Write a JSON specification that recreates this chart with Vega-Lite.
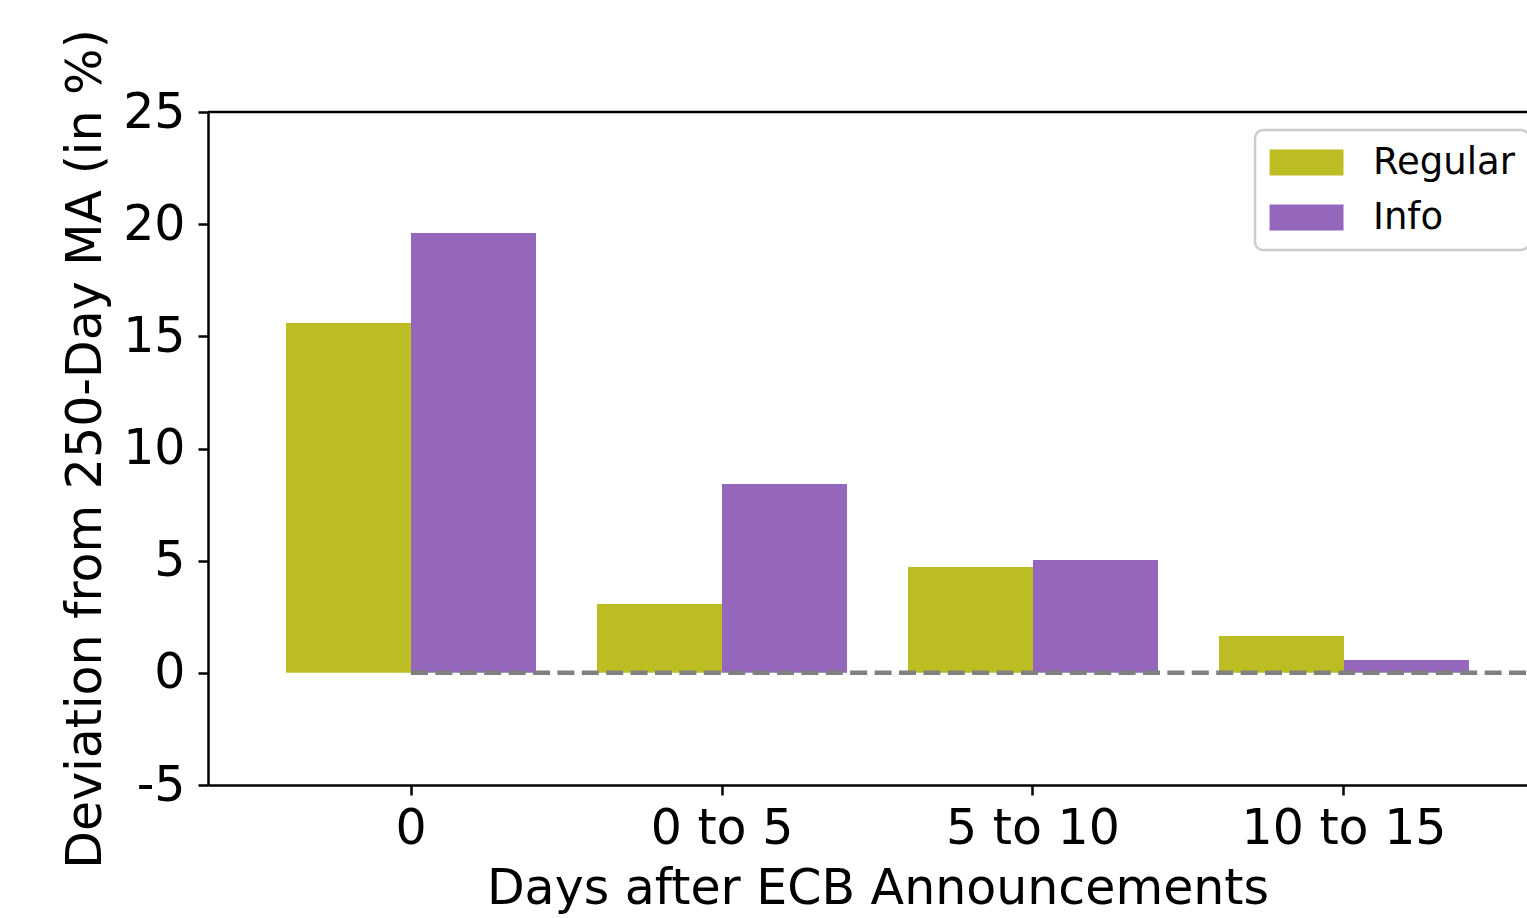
{
  "$schema": "https://vega.github.io/schema/vega-lite/v6.json",
  "width": 1319,
  "height": 673,
  "autosize": {"type": "none"},
  "padding": {"left": 208, "top": 112, "right": 0, "bottom": 133},
  "background": "white",
  "config": {
    "view": {"stroke": null},
    "font": "DejaVu Sans",
    "axis": {
      "domainColor": "black",
      "domainWidth": 2.5,
      "tickColor": "black",
      "tickWidth": 2.5,
      "tickSize": 10,
      "labelFont": "DejaVu Sans",
      "labelFontSize": 49,
      "labelColor": "black",
      "labelLimit": 500,
      "titleFont": "DejaVu Sans",
      "titleFontSize": 49,
      "titleFontWeight": "normal",
      "titleColor": "black",
      "grid": false
    }
  },
  "datasets": {
    "bars": [
      {"days": "0", "type": "Regular", "value": 15.59},
      {"days": "0", "type": "Info", "value": 19.61},
      {"days": "0 to 5", "type": "Regular", "value": 3.07},
      {"days": "0 to 5", "type": "Info", "value": 8.42},
      {"days": "5 to 10", "type": "Regular", "value": 4.72},
      {"days": "5 to 10", "type": "Info", "value": 5.03},
      {"days": "10 to 15", "type": "Regular", "value": 1.64},
      {"days": "10 to 15", "type": "Info", "value": 0.57}
    ]
  },
  "layer": [
    {
      "data": {"name": "bars"},
      "mark": {"type": "bar"},
      "encoding": {
        "x": {
          "field": "days",
          "type": "nominal",
          "sort": ["0", "0 to 5", "5 to 10", "10 to 15"],
          "scale": {"paddingInner": 0, "paddingOuter": 0.1206, "align": 0.6333},
          "axis": {
            "title": "Days after ECB Announcements",
            "labelAngle": 0,
            "labelPadding": 9,
            "labelLimit": 500,
            "labelOverlap": false,
            "titlePadding": 11,
            "titleX": 669.5,
            "titleAlign": "center"
          }
        },
        "xOffset": {
          "field": "type",
          "type": "nominal",
          "sort": ["Regular", "Info"],
          "scale": {"paddingInner": 0, "paddingOuter": 0.244}
        },
        "y": {
          "field": "value",
          "type": "quantitative",
          "scale": {"domain": [-5, 25], "nice": false, "zero": false},
          "axis": {
            "title": "Deviation from 250-Day MA (in %)",
            "values": [-5, 0, 5, 10, 15, 20, 25],
            "labelExpr": "'' + datum.value",
            "labelPadding": 13,
            "titlePadding": 12
          }
        },
        "color": {
          "field": "type",
          "type": "nominal",
          "sort": ["Regular", "Info"],
          "scale": {"domain": ["Regular", "Info"], "range": ["#bcbd22", "#9467bd"]},
          "legend": {
            "orient": "none",
            "legendX": 1047,
            "legendY": 18,
            "title": null,
            "symbolType": "M-1.38,-1H4.31V1H-1.38Z",
            "symbolSize": 676,
            "symbolStrokeWidth": 0,
            "symbolOpacity": 1,
            "labelFont": "DejaVu Sans",
            "labelFontSize": 37,
            "labelColor": "black",
            "labelOffset": 67,
            "labelLimit": 400,
            "strokeColor": "#cccccc",
            "cornerRadius": 8,
            "fillColor": "white",
            "padding": 14,
            "rowPadding": 17,
            "encode": {"legend": {"update": {"strokeWidth": {"value": 2.5}}}}
          }
        }
      }
    },
    {
      "data": {"values": [{}]},
      "mark": {"type": "rule", "color": "black", "strokeWidth": 2.5},
      "encoding": {"y": {"datum": 25}}
    },
    {
      "data": {"values": [{}]},
      "mark": {"type": "rule", "color": "#808080", "strokeWidth": 4.5, "strokeDash": [17, 7.4], "clip": true},
      "encoding": {
        "x": {"datum": 0, "type": "quantitative", "scale": {"domain": [-0.6527, 3.5884], "nice": false, "zero": false}, "axis": null},
        "x2": {"datum": 4},
        "y": {"datum": 0}
      }
    }
  ],
  "resolve": {"scale": {"x": "independent"}}
}
